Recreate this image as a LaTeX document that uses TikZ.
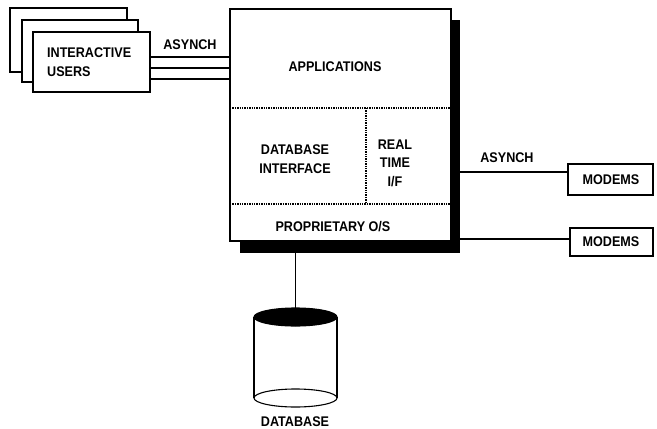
\documentclass[tikz,border=0pt]{standalone}
\usepackage{fontspec}
\setmainfont[FakeStretch=0.9]{Liberation Sans}
\begin{document}
\begin{tikzpicture}[x=1pt,y=-1pt,
  lbl/.style={font=\bfseries\fontsize{14}{18.5}\selectfont, inner sep=0pt, align=center},
  boxst/.style={draw=black, line width=1.2pt, fill=white, inner sep=0pt},
  wire/.style={line width=1.1pt},
  sep/.style={line width=1.4pt, densely dotted}]
\useasboundingbox (0,0) rectangle (657,429);
% interactive users stack
\node[boxst, minimum width=117, minimum height=64] (u3) at (68.5,40) {};
\node[boxst, minimum width=116, minimum height=62] (u2) at (80,51) {};
\node[boxst, minimum width=117, minimum height=60] (users) at (91.5,62) {};
\node[lbl, align=left, anchor=north west] (userst) at (47,48) {INTERACTIVE\\USERS};
% main box with shadow
\node[fill=black, minimum width=220, minimum height=233, inner sep=0pt] (shadow) at (350,136.5) {};
\node[boxst, minimum width=221, minimum height=232] (main) at (340.5,125) {};
\coordinate (h1w) at (230,108); \coordinate (h1e) at (451,108);
\coordinate (h2w) at (230,204); \coordinate (h2e) at (451,204);
\coordinate (vt) at (366,108); \coordinate (vb) at (366,204);
\draw[sep] (h1w) -- (h1e);
\draw[sep] (h2w) -- (h2e);
\draw[sep] (vt) -- (vb);
\node[lbl] (apps) at (335,67) {APPLICATIONS};
\node[lbl] (dbi) at (295,159) {DATABASE\\INTERFACE};
\node[lbl] (rt) at (395,163) {REAL\\TIME\\I/F};
\node[lbl] (os) at (333,227) {PROPRIETARY O/S};
% user links
\foreach \yy in {57,68,79} \draw[wire] (users.east |- 0,\yy) -- (main.west |- 0,\yy);
\node[lbl] (as1) at (190,45) {ASYNCH};
% modems
\node[boxst, minimum width=85, minimum height=31] (m1) at (610.5,179.5) {};
\node[lbl] (m1t) at (611,180) {MODEMS};
\node[boxst, minimum width=83, minimum height=28] (m2) at (611.5,242) {};
\node[lbl] (m2t) at (611,242) {MODEMS};
\draw[wire] (shadow.east |- 0,172) -- (m1.west |- 0,172);
\draw[wire] (shadow.east |- 0,239) -- (m2.west |- 0,239);
\node[lbl] (as2) at (507,158) {ASYNCH};
% database cylinder
\coordinate (dbtop) at (295.5,308);
\draw[line width=1.1pt] (254,317) -- (254,398);
\draw[line width=1.1pt] (337,317) -- (337,398);
\draw[line width=1.1pt] (295.5,398) ellipse [x radius=41.5, y radius=9];
\draw[line width=1.1pt, fill=black] (295.5,317) ellipse [x radius=41.5, y radius=9];
\draw[wire] (shadow.south -| dbtop) -- (dbtop);
\node[lbl] (dbt) at (295,422) {DATABASE};
\end{tikzpicture}
\end{document}
